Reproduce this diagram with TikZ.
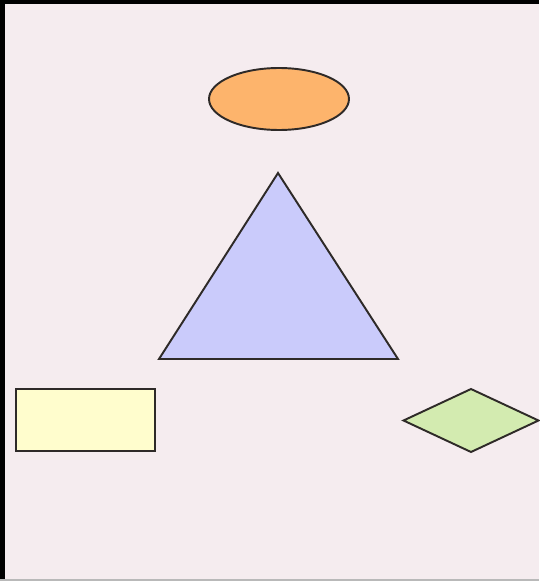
\documentclass[tikz,border=0pt]{standalone}
\usepackage{xcolor}
\usepackage{tikz}
\usetikzlibrary{shapes.geometric}

\definecolor{bgpink}{HTML}{F5ECEF}
\definecolor{ovalorange}{HTML}{FDB46C}
\definecolor{trililac}{HTML}{CACBFB}
\definecolor{boxyellow}{HTML}{FFFDCD}
\definecolor{diagreen}{HTML}{D3EBB0}
\definecolor{edgegray}{HTML}{2E2A28}

\begin{document}
\begin{tikzpicture}[
  x=0.02cm, y=-0.02cm,
  shp/.style    ={draw=edgegray, line width=1.1pt, inner sep=0pt, outer sep=0pt},
  oval/.style   ={shp, ellipse, fill=ovalorange, minimum width=2.8cm, minimum height=1.24cm},
  boxshp/.style ={shp, rectangle, fill=boxyellow, minimum width=2.78cm, minimum height=1.24cm},
  rhomb/.style  ={shp, diamond, fill=diagreen, minimum width=2.7cm, minimum height=1.26cm}
]

% ---- canvas ----
\fill[bgpink] (0,0) rectangle (539,581);
\fill[black] (0,0) rectangle (539,4);
\fill[black] (0,0) rectangle (5,581);
\fill[gray!55] (0,578.5) rectangle (539,581);
\useasboundingbox (0,0) rectangle (539,581);

% ---- shapes ----
\node[oval] (top) at (279,99) {};

\coordinate (apex)  at (278,173);
\coordinate (bleft) at (159,359);
\coordinate (bright) at (398,359);
\draw[shp, fill=trililac, line join=miter] (apex) -- (bleft) -- (bright) -- cycle;

\node[boxshp] (box) at (85.5,420) {};
\node[rhomb] (dia) at (471,420.5) {};

\end{tikzpicture}
\end{document}
